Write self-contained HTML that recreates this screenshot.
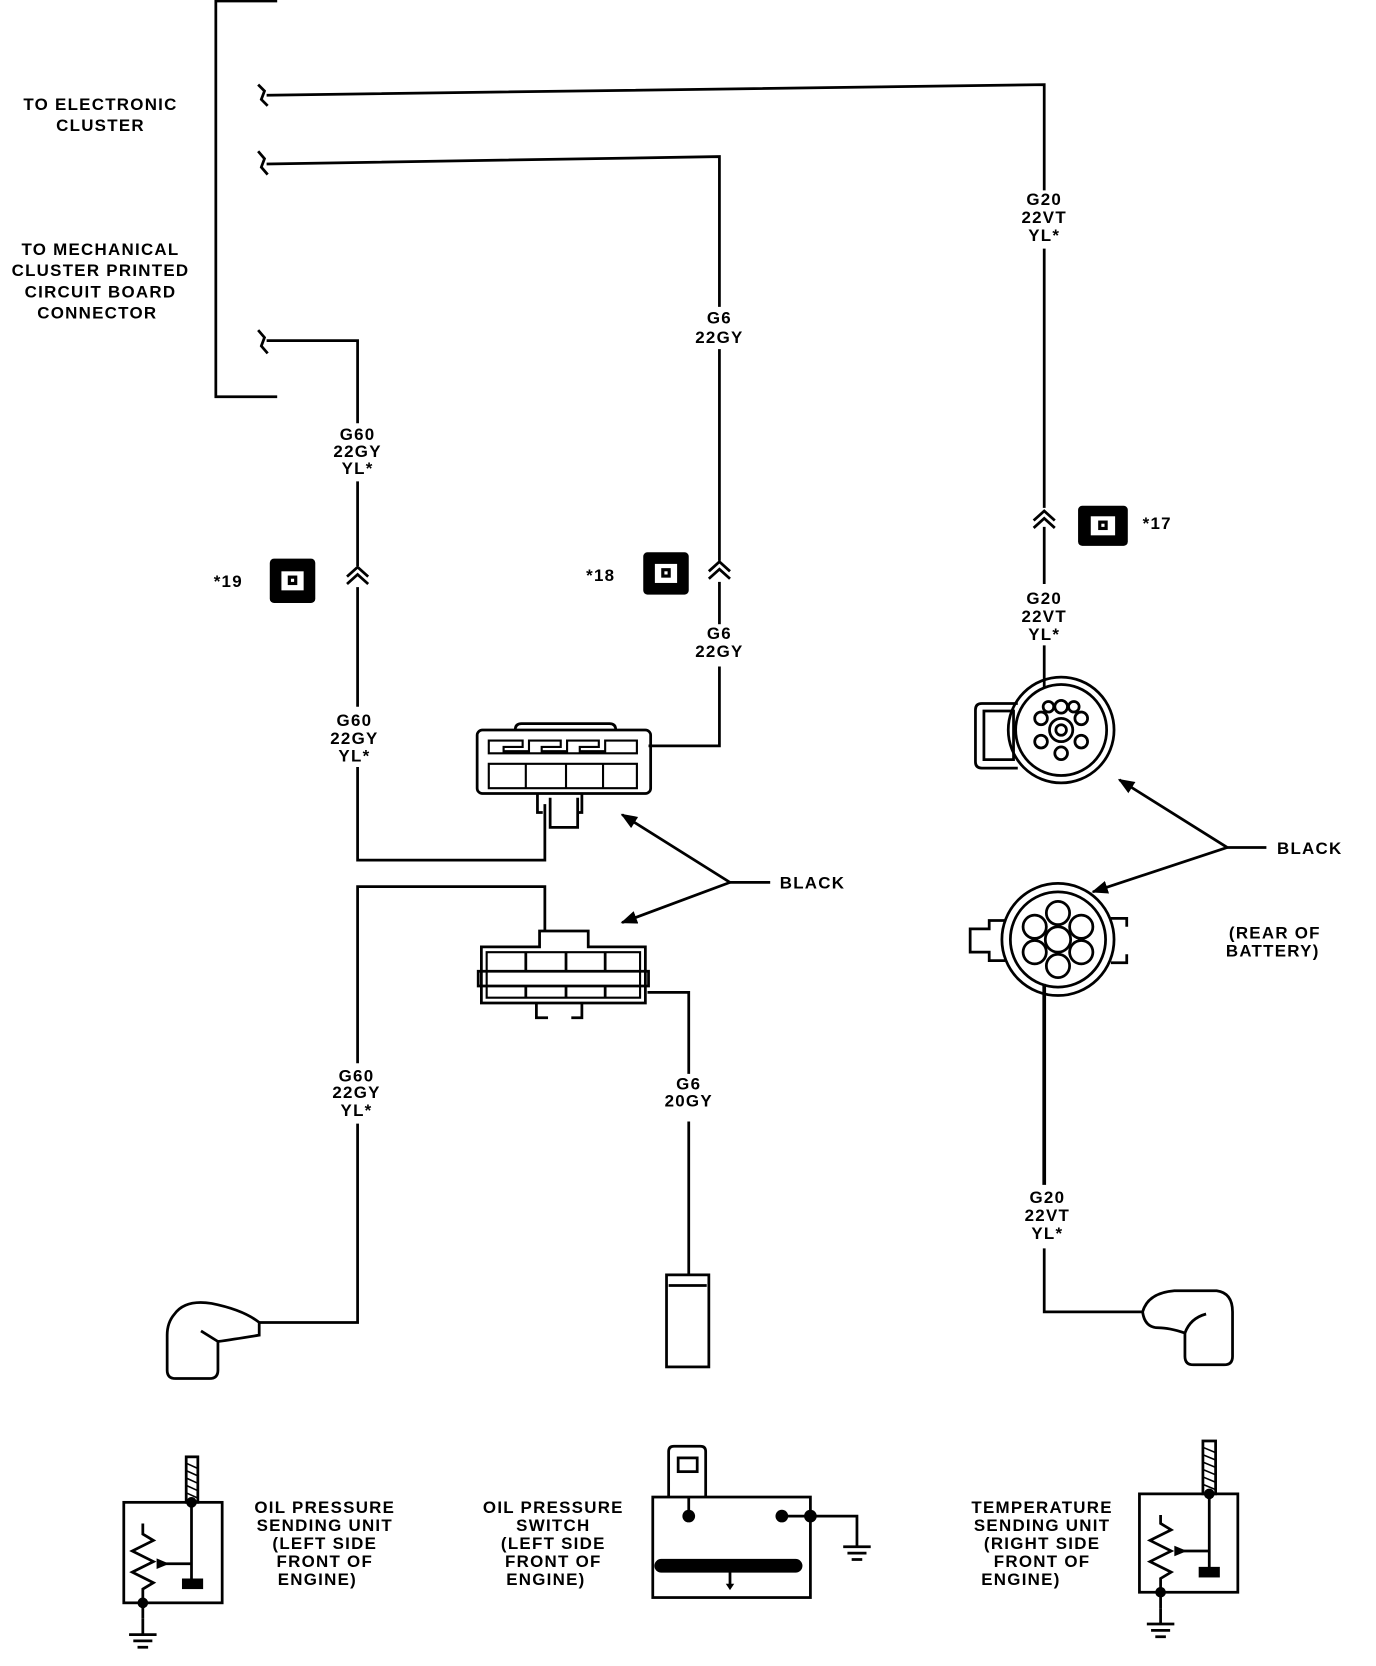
<!DOCTYPE html>
<html><head><meta charset="utf-8"><style>
html,body{margin:0;padding:0;background:#fff;}
svg{display:block}
text{font-family:"Liberation Sans",sans-serif;font-size:16px;font-weight:bold;fill:#000;letter-spacing:1.2px}
</style></head><body>
<svg width="1376" height="1666" viewBox="0 0 1300.6 1574.7" preserveAspectRatio="none" xmlns="http://www.w3.org/2000/svg">
<defs>
<marker id="ah" viewBox="0 0 10 10" refX="9" refY="5" markerWidth="6" markerHeight="6" orient="auto"><path d="M0,1 L10,5 L0,9 Z" fill="#000"/></marker>
</defs>
<g fill="none" stroke="#000" stroke-width="2.6">
<path d="M262,1 H204 V375 H262"/>
<path d="M244,80 L250,86 L247,94 L253,100"/>
<path d="M244,143 L250,150 L247,158 L253,165"/>
<path d="M244,312 L250,319 L247,327 L253,334"/>
<path d="M252,90 L987,80 V180"/>
<path d="M987,235 V480"/>
<path d="M987,498 V552"/>
<path d="M987,610 V650"/>
<path d="M987,930 V1120" stroke-width="3.5"/>
<path d="M987,1180 V1240 H1080"/>
<path d="M252,155 L680,148 V290"/>
<path d="M680,330 V530"/>
<path d="M680,550 V590"/>
<path d="M680,630 V705 H613"/>
<path d="M252,322 H338 V400"/>
<path d="M338,455 V535"/>
<path d="M338,555 V668"/>
<path d="M338,725 V813 H515 V760"/>
<path d="M515,880 V838 H338 V1005"/>
<path d="M338,1062 V1250 H245"/>
<path d="M612,938 H651 V1015"/>
<path d="M651,1060 V1205"/>
<path d="M328,545 L338,536 L348,545 M328,552 L338,543 L348,552"/>
<path d="M670,540 L680,531 L690,540 M670,547 L680,538 L690,547"/>
<path d="M977,492 L987,483 L997,492 M977,499 L987,490 L997,499"/>
<path d="M487,690 Q487,684 493,684 H576 Q582,684 582,690"/>
<rect x="451" y="690" width="164" height="60" rx="5"/>
<path d="M462,700 H494 V706 H476 V710 H500 V700 H530 V706 H512 V710 H536 V700 H566 V706 H548 V710 H572 V700 H602 V712 H462 Z" stroke-width="2"/>
<path d="M462,722 H602 V745 H462 Z M497,722 V745 M535,722 V745 M570,722 V745" stroke-width="2"/>
<path d="M508,750 V768 H513 M550,750 V768 H545 M520,754 V782 H546 V754"/>
<path d="M455,895 H510 V880 H556 V895 H610 V948 H455 Z"/>
<path d="M460,900 H605 V943 H460 Z" stroke-width="2"/>
<path d="M452,918 H613 V932 H452 Z"/>
<path d="M497,900 V918 M535,900 V918 M572,900 V918 M497,932 V943 M535,932 V943 M572,932 V943"/>
<path d="M507,948 V962 H518 M550,948 V962 H540"/>
<path d="M728,834 H690 L588,770" marker-end="url(#ah)"/>
<path d="M690,834 L588,872" marker-end="url(#ah)"/>
<path d="M1197,801 H1160 L1058,737" marker-end="url(#ah)"/>
<path d="M1160,801 L1033,843" marker-end="url(#ah)"/>
<path d="M962,665 H928 Q922,665 922,671 V720 Q922,726 928,726 H962"/>
<path d="M930,672 H958 V718 H930 Z"/>
<circle cx="1003" cy="690" r="50"/>
<circle cx="1003" cy="690" r="43"/>
<circle cx="1003" cy="690" r="11"/><circle cx="1003" cy="690" r="5"/>
<circle cx="1003" cy="668" r="6"/><circle cx="1022" cy="679" r="6"/><circle cx="1022" cy="701" r="6"/><circle cx="1003" cy="712" r="6"/><circle cx="984" cy="701" r="6"/><circle cx="984" cy="679" r="6"/><circle cx="1015" cy="668" r="5"/><circle cx="991" cy="668" r="5"/>
<path d="M950,870 H935 V878 H917 V900 H935 V908 H950"/>
<path d="M1050,868 H1065 V876 M1050,910 H1065 V902"/>
<circle cx="1000" cy="888" r="53"/>
<circle cx="1000" cy="888" r="45"/>
<circle cx="1000" cy="888" r="12"/>
<circle cx="1000" cy="863" r="11"/><circle cx="1022" cy="876" r="11"/><circle cx="1022" cy="900" r="11"/><circle cx="1000" cy="913" r="11"/><circle cx="978" cy="900" r="11"/><circle cx="978" cy="876" r="11"/>
<path d="M245,1250 Q230,1238 200,1232 Q175,1228 165,1242 Q158,1250 158,1262 V1295 Q158,1303 166,1303 H198 Q206,1303 206,1295 V1268 Q220,1266 245,1262 Z"/>
<path d="M190,1258 L206,1268"/>
<path d="M1080,1240 Q1085,1222 1110,1220 H1150 Q1165,1222 1165,1240 V1282 Q1165,1290 1157,1290 H1128 Q1120,1290 1120,1282 V1260 Q1105,1255 1095,1255 Q1082,1255 1080,1240 Z"/>
<path d="M1120,1260 Q1125,1246 1140,1242"/>
<rect x="630" y="1205" width="40" height="87"/>
<path d="M632,1215 H668"/>
<rect x="117" y="1420" width="93" height="95"/>
<path d="M181,1420 V1497 M181,1478 H155"/>
<path d="M135,1440 V1450 L145,1456 L125,1466 L145,1476 L125,1486 L145,1496 L135,1502 V1530"/>
<path d="M135,1530 V1545 M122,1545 H148 M126,1551 H144 M130,1557 H140"/>
<rect x="176" y="1377" width="11" height="43"/>
<path d="M176,1383 L187,1388 M176,1390 L187,1395 M176,1397 L187,1402 M176,1404 L187,1409 M176,1411 L187,1416" stroke-width="1.5"/>
<rect x="617" y="1415" width="149" height="95"/>
<path d="M632,1415 V1372 Q632,1367 637,1367 H662 Q667,1367 667,1372 V1415"/>
<rect x="641" y="1378" width="18" height="13"/>
<path d="M651,1415 V1433 M739,1433 H766 M766,1433 H810 V1462 M797,1462 H823 M801,1468 H819 M805,1474 H815"/>
<path d="M690,1486 V1500"/>
<path d="M625,1480 H752" stroke-width="13" stroke-linecap="round"/>
<rect x="1077" y="1412" width="93" height="93"/>
<path d="M1143,1412 V1485 M1143,1466 H1118"/>
<path d="M1097,1432 V1440 L1107,1446 L1087,1456 L1107,1466 L1087,1476 L1107,1486 L1097,1492 V1520"/>
<path d="M1097,1520 V1535 M1084,1535 H1110 M1088,1541 H1106 M1092,1547 H1102"/>
<rect x="1137" y="1362" width="12" height="50"/>
<path d="M1137,1368 L1149,1373 M1137,1375 L1149,1380 M1137,1382 L1149,1387 M1137,1389 L1149,1394 M1137,1396 L1149,1401 M1137,1403 L1149,1408" stroke-width="1.5"/>
</g>
<g fill="#000">
<path d="M160,1478 L148,1473 V1483 Z"/>
<path d="M1122,1466 L1110,1461 V1471 Z"/>
<path d="M686,1497 L694,1497 L690,1503 Z"/>
<rect x="172" y="1492" width="20" height="10"/>
<rect x="1133" y="1481" width="20" height="10"/>
<circle cx="181" cy="1420" r="5"/><circle cx="135" cy="1515" r="5"/>
<circle cx="651" cy="1433" r="6"/><circle cx="739" cy="1433" r="6"/><circle cx="766" cy="1433" r="6"/>
<circle cx="1143" cy="1412" r="5"/><circle cx="1097" cy="1505" r="5"/>
<rect x="255" y="528" width="43" height="42" rx="4"/>
<rect x="608" y="522" width="43" height="40" rx="4"/>
<rect x="1019" y="478" width="47" height="38" rx="4"/>
</g>
<g fill="#fff" stroke="none">
<rect x="266" y="540" width="21" height="18"/><rect x="619" y="533" width="21" height="18"/><rect x="1031" y="488" width="23" height="18"/>
</g>
<g fill="#000">
<rect x="272" y="544" width="9" height="9"/><rect x="625" y="537" width="9" height="9"/><rect x="1038" y="492" width="9" height="9"/>
</g>
<g fill="#fff"><rect x="275" y="547" width="3" height="3"/><rect x="628" y="540" width="3" height="3"/><rect x="1041" y="495" width="3" height="3"/></g>
<g text-anchor="middle">
<text x="95" y="104">TO ELECTRONIC</text>
<text x="95" y="124">CLUSTER</text>
<text x="95" y="241">TO MECHANICAL</text>
<text x="95" y="261">CLUSTER PRINTED</text>
<text x="95" y="281">CIRCUIT BOARD</text>
<text x="92" y="301">CONNECTOR</text>
<text x="987" y="194">G20</text><text x="987" y="211">22VT</text><text x="987" y="228">YL*</text>
<text x="987" y="571">G20</text><text x="987" y="588">22VT</text><text x="987" y="605">YL*</text>
<text x="990" y="1137">G20</text><text x="990" y="1154">22VT</text><text x="990" y="1171">YL*</text>
<text x="680" y="306">G6</text><text x="680" y="324">22GY</text>
<text x="680" y="604">G6</text><text x="680" y="621">22GY</text>
<text x="651" y="1030">G6</text><text x="651" y="1046">20GY</text>
<text x="338" y="416">G60</text><text x="338" y="432">22GY</text><text x="338" y="448">YL*</text>
<text x="335" y="686">G60</text><text x="335" y="703">22GY</text><text x="335" y="720">YL*</text>
<text x="337" y="1022">G60</text><text x="337" y="1038">22GY</text><text x="337" y="1055">YL*</text>
<text x="307" y="1430">OIL PRESSURE</text><text x="307" y="1447">SENDING UNIT</text><text x="307" y="1464">(LEFT SIDE</text><text x="307" y="1481">FRONT OF</text><text x="300" y="1498">ENGINE)</text>
<text x="523" y="1430">OIL PRESSURE</text><text x="523" y="1447">SWITCH</text><text x="523" y="1464">(LEFT SIDE</text><text x="523" y="1481">FRONT OF</text><text x="516" y="1498">ENGINE)</text>
<text x="985" y="1430">TEMPERATURE</text><text x="985" y="1447">SENDING UNIT</text><text x="985" y="1464">(RIGHT SIDE</text><text x="985" y="1481">FRONT OF</text><text x="965" y="1498">ENGINE)</text>
<text x="1205" y="887">(REAR OF</text><text x="1203" y="904">BATTERY)</text>
</g>
<text x="737" y="840">BLACK</text>
<text x="1207" y="807">BLACK</text>
<text x="202" y="555">*19</text>
<text x="554" y="549">*18</text>
<text x="1080" y="500">*17</text>
</svg>
</body></html>
